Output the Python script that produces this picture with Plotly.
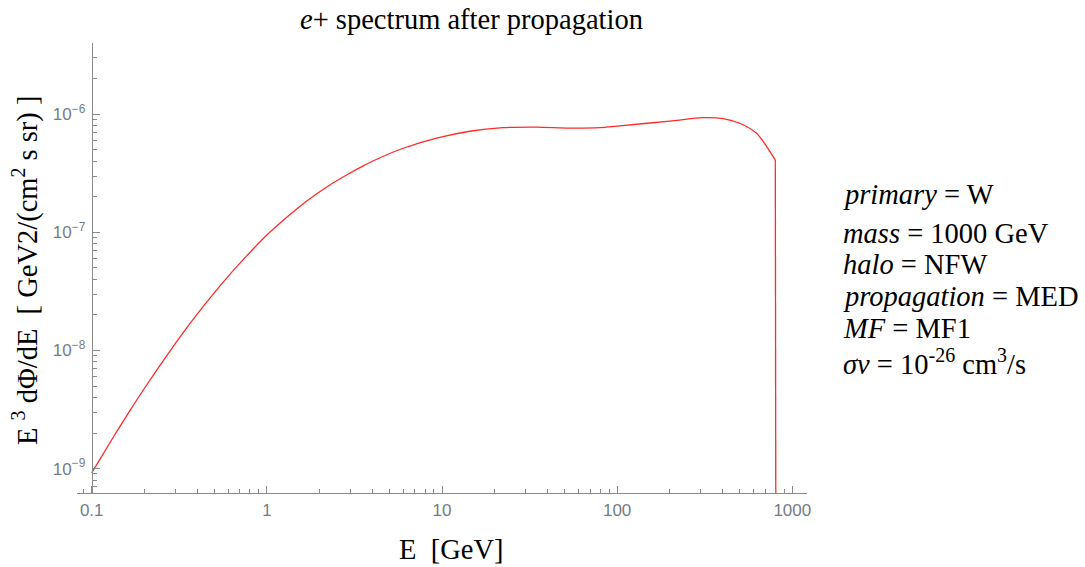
import plotly.graph_objects as go

# ---- data ----
energy_gev = [0.1, 0.133, 0.166, 0.206, 0.257, 0.319, 0.397, 0.494, 0.615, 0.767,
              0.954, 1.19, 1.48, 1.84, 2.29, 2.85, 3.55, 4.42, 6.01, 9.31,
              14.4, 22.3, 34.7, 53.7, 80.0, 100.0, 200.0, 310.0, 403.0, 501.0,
              625.0, 800.0, 808.0]
e3_flux = [9.2e-10, 1.85e-9, 3.13e-9, 5.10e-9, 8.26e-9, 1.30e-8, 2.00e-8, 3.00e-8, 4.41e-8, 6.32e-8,
           8.87e-8, 1.20e-7, 1.58e-7, 2.02e-7, 2.52e-7, 3.06e-7, 3.66e-7, 4.29e-7, 5.16e-7, 6.28e-7,
           7.19e-7, 7.70e-7, 7.80e-7, 7.65e-7, 7.72e-7, 7.95e-7, 8.77e-7, 9.36e-7, 9.20e-7, 8.40e-7,
           6.90e-7, 4.10e-7, 1.0e-11]

x_tick_vals = [0.1, 1, 10, 100, 1000]
x_tick_text = ["0.1", "1", "10", "100", "1000"]
y_tick_vals = [1e-9, 1e-8, 1e-7, 1e-6]
y_tick_text = ["10<sup>\u22129</sup>", "10<sup>\u22128</sup>", "10<sup>\u22127</sup>", "10<sup>\u22126</sup>"]

title_text = "<i>e</i>+ spectrum after propagation"
x_title = "E  [GeV]"
y_title = "E <sup>3</sup> dΦ/dE  [ GeV2/(cm<sup>2</sup> s sr) ]"
info_lines = [
    "<i>primary</i> = W",
    "<i>mass</i> = 1000 GeV",
    "<i>halo</i> = NFW",
    "<i>propagation</i> = MED",
    "<i>MF</i> = MF1",
    "<i>σv</i> = 10<sup>-26</sup> cm<sup>3</sup>/s",
]

# ---- layout geometry (pixels) ----
W, H = 1085, 567
L, R, T, B = 77, 278, 43, 74
PW, PH = W - L - R, H - T - B


def px(xp):
    return (xp - L) / PW


def py(yp):
    return 1 - (yp - T) / PH


minor_x = [m * 10 ** k for k in range(-2, 4) for m in range(2, 10)]
minor_y = [m * 10.0 ** k for k in range(-10, -5) for m in range(2, 10)]

AX = "#8a8a8a"
TICKFONT = dict(family="Liberation Sans, Arial, sans-serif", size=17, color="#747c86")
SERIF = "Liberation Serif, Times New Roman, serif"
FS = 28.5

n_smooth = len(energy_gev) - 1  # smooth part up to the cutoff, then the sharp drop

fig = go.Figure()
fig.add_trace(go.Scatter(x=energy_gev[:n_smooth], y=e3_flux[:n_smooth], mode="lines",
                         line=dict(color="#ff2a2a", width=1.3, shape="spline", smoothing=0.8),
                         showlegend=False))
fig.add_trace(go.Scatter(x=energy_gev[n_smooth - 1:], y=e3_flux[n_smooth - 1:], mode="lines",
                         line=dict(color="#ff2a2a", width=1.3), showlegend=False))

fig.update_layout(
    width=W, height=H,
    margin=dict(l=L, r=R, t=T, b=B),
    paper_bgcolor="white", plot_bgcolor="white",
    xaxis=dict(type="log", range=[-1.084, 3.084], showgrid=False, zeroline=False,
               showline=True, linecolor=AX, linewidth=1,
               ticks="inside", ticklen=7, tickcolor=AX, tickwidth=1,
               tickmode="array", tickvals=x_tick_vals, ticktext=x_tick_text,
               tickfont=TICKFONT, ticklabelstandoff=2,
               minor=dict(ticks="inside", ticklen=4, tickcolor=AX, tickwidth=1,
                          tickmode="array", tickvals=minor_x, showgrid=False)),
    yaxis=dict(type="log", range=[-9.207, -5.396], showgrid=False, zeroline=False,
               anchor="free", position=px(91.7),
               showline=True, linecolor=AX, linewidth=1,
               ticks="inside", ticklen=7, tickcolor=AX, tickwidth=1,
               tickmode="array", tickvals=y_tick_vals, ticktext=y_tick_text,
               tickfont=TICKFONT, ticklabelstandoff=3,
               minor=dict(ticks="inside", ticklen=4, tickcolor=AX, tickwidth=1,
                          tickmode="array", tickvals=minor_y, showgrid=False)),
)

ann = []
ann.append(dict(text=title_text, x=px(471.5), y=py(19), xref="paper", yref="paper",
                xanchor="center", yanchor="middle", showarrow=False,
                font=dict(family=SERIF, size=FS, color="black")))
ann.append(dict(text=x_title, x=px(451), y=py(549), xref="paper", yref="paper",
                xanchor="center", yanchor="middle", showarrow=False,
                font=dict(family=SERIF, size=FS, color="black")))
ann.append(dict(text=y_title, x=px(25), y=py(271), xref="paper", yref="paper",
                xanchor="center", yanchor="middle", showarrow=False, textangle=-90,
                font=dict(family=SERIF, size=FS, color="black")))
line_centers = [194, 233, 264, 296, 328, 362]
for txt, yc in zip(info_lines, line_centers):
    ann.append(dict(text=txt, x=px(841), y=py(yc), xref="paper", yref="paper",
                    xanchor="left", yanchor="middle", showarrow=False,
                    font=dict(family=SERIF, size=FS, color="black")))
fig.update_layout(annotations=ann)

fig.write_html("out.html")
